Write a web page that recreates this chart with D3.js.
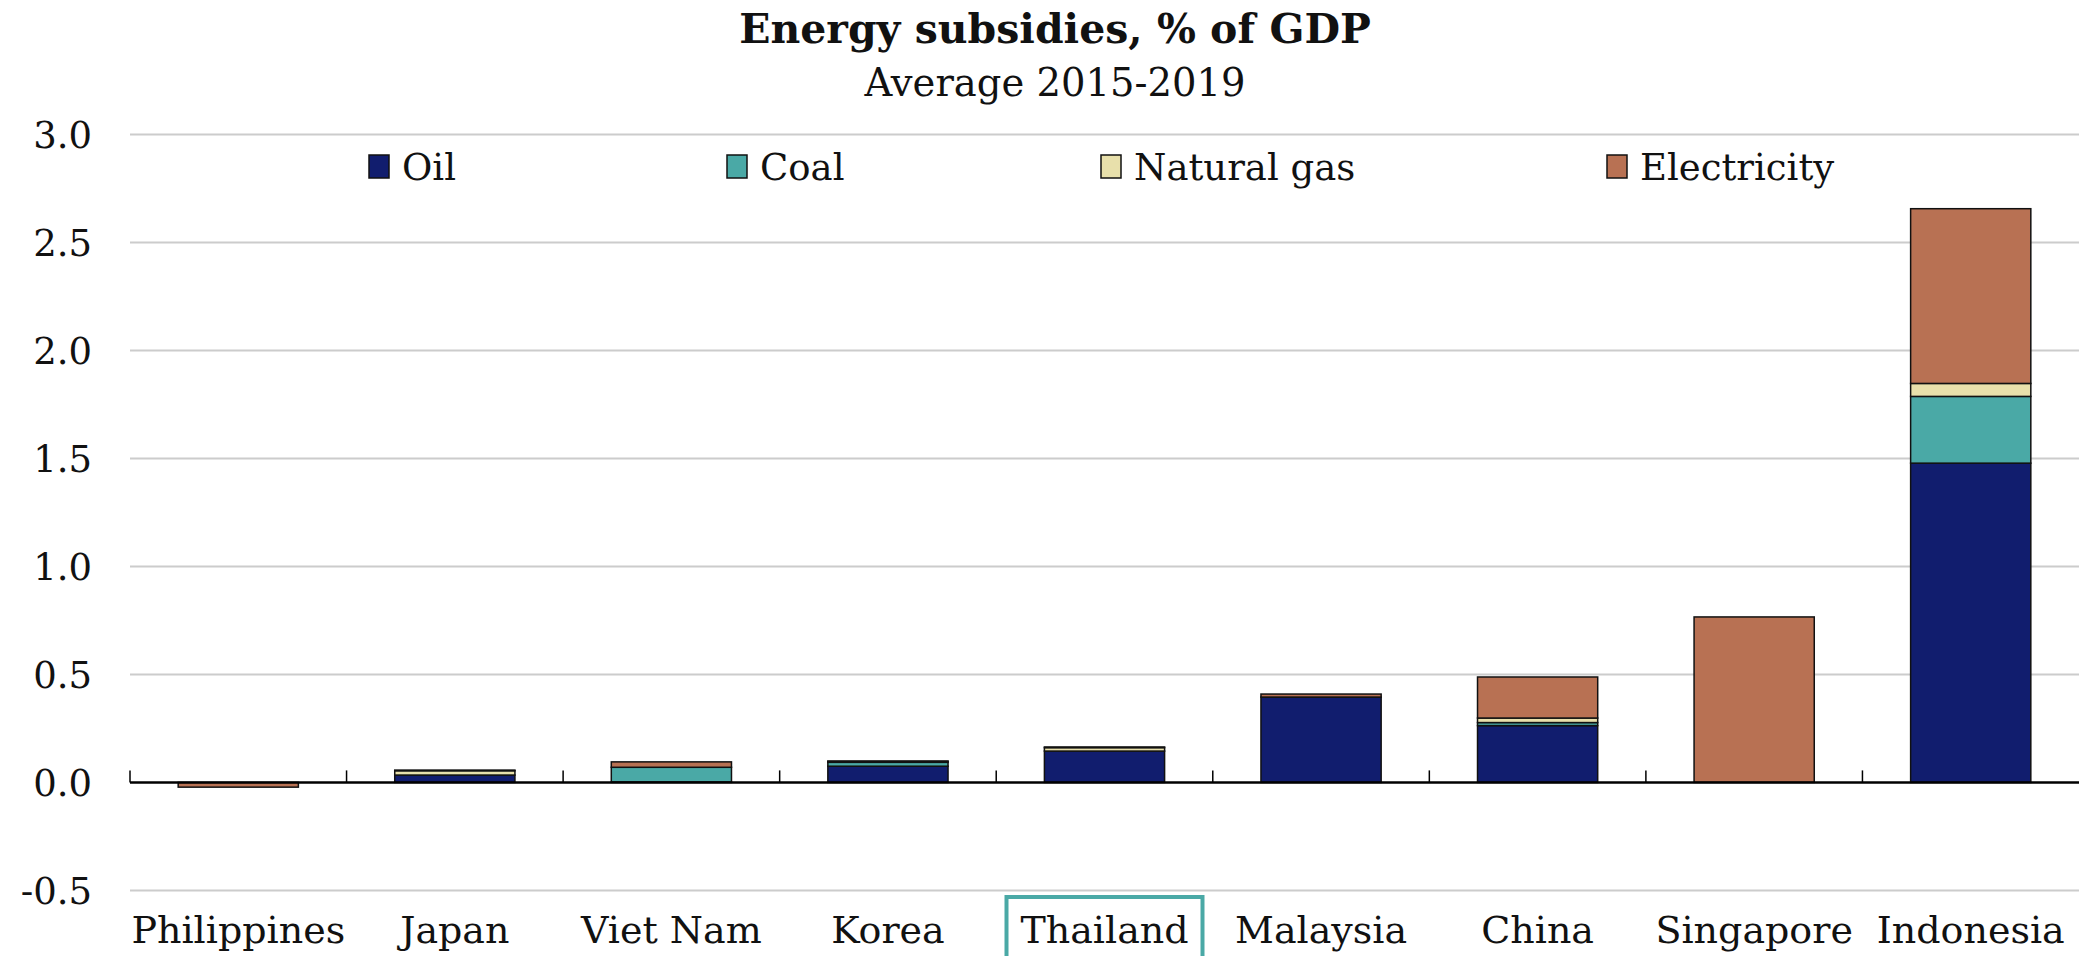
<!DOCTYPE html>
<html>
<head>
<meta charset="utf-8">
<script src="https://cdn.jsdelivr.net/npm/d3@7"></script>
<style>
  html, body { margin: 0; padding: 0; background: #ffffff; }
  svg { display: block; }
  text { font-family: "DejaVu Serif", Georgia, serif; fill: #111; }
</style>
</head>
<body>
<svg id="chart" width="2079" height="956"></svg>
<script>
// ---- data ----
const categories = ["Philippines", "Japan", "Viet Nam", "Korea", "Thailand", "Malaysia", "China", "Singapore", "Indonesia"];
const seriesNames = ["Oil", "Coal", "Natural gas", "Electricity"];
const oil         = [0,      0.034, 0.002, 0.075, 0.145, 0.395, 0.263, 0,     1.478];
const coal        = [0,      0,     0.068, 0.018, 0,     0,     0.014, 0,     0.309];
const naturalGas  = [0,      0.020, 0,     0.004, 0.016, 0,     0.021, 0,     0.060];
const electricity = [-0.022, 0.003, 0.025, 0.002, 0.003, 0.014, 0.190, 0.766, 0.809];
const yTicks = [-0.5, 0, 0.5, 1.0, 1.5, 2.0, 2.5, 3.0];
const titleText = "Energy subsidies, % of GDP";
const subtitleText = "Average 2015-2019";
const highlighted = "Thailand";

// ---- styles / layout ----
const colors = ["#111d6e", "#4aa9a6", "#e8e0ab", "#b87153"];
const plot = { left: 130, right: 2079, top: 134.4, bottom: 890.4 };
const legendX = [369, 727, 1101, 1607];
const outerPad = 0.2225;

const svg = d3.select("#chart");

const x = d3.scaleBand().domain(categories).range([plot.left, plot.right]).paddingInner(0.445).paddingOuter(outerPad);
const y = d3.scaleLinear().domain([-0.5, 3.0]).range([plot.bottom, plot.top]);
const fmt = v => d3.format(".1f")(v).replace("\u2212", "-");

// gridlines
svg.append("g").selectAll("line").data(yTicks.filter(t => t !== 0)).join("line")
  .attr("x1", plot.left).attr("x2", plot.right)
  .attr("y1", d => y(d)).attr("y2", d => y(d))
  .attr("stroke", "#cccccc").attr("stroke-width", 2);

// y labels
svg.append("g").selectAll("text").data(yTicks).join("text")
  .attr("x", 92).attr("y", d => y(d)).attr("dy", "0.38em")
  .attr("text-anchor", "end").attr("font-size", 37)
  .text(d => fmt(d));

// stacked bars
const table = categories.map((c, i) => ({
  cat: c, "Oil": oil[i], "Coal": coal[i], "Natural gas": naturalGas[i], "Electricity": electricity[i]
}));
const stack = d3.stack().keys(seriesNames).offset(d3.stackOffsetDiverging);
const layers = stack(table);

svg.append("g").selectAll("g").data(layers).join("g")
  .attr("fill", (d, i) => colors[i])
  .selectAll("rect").data(d => d.filter(p => Math.abs(p[1] - p[0]) > 0)).join("rect")
  .attr("x", d => x(d.data.cat))
  .attr("width", x.bandwidth())
  .attr("y", d => y(Math.max(d[0], d[1])))
  .attr("height", d => Math.abs(y(d[0]) - y(d[1])))
  .attr("stroke", "#111").attr("stroke-width", 1.5);

// zero axis + category separator ticks
const step = x.step();
svg.append("line")
  .attr("x1", plot.left).attr("x2", plot.right)
  .attr("y1", y(0)).attr("y2", y(0))
  .attr("stroke", "#000").attr("stroke-width", 2.5);
svg.append("g").selectAll("line").data(categories).join("line")
  .attr("x1", d => x(d) - step * outerPad)
  .attr("x2", d => x(d) - step * outerPad)
  .attr("y1", y(0)).attr("y2", y(0) - 12)
  .attr("stroke", "#000").attr("stroke-width", 1.5);

// x labels
svg.append("g").selectAll("text").data(categories).join("text")
  .attr("x", d => x(d) + x.bandwidth() / 2).attr("y", 943)
  .attr("text-anchor", "middle").attr("font-size", 38)
  .text(d => d);

// highlight box
const hx = x(highlighted) + x.bandwidth() / 2;
svg.append("rect")
  .attr("x", hx - 98).attr("y", 897).attr("width", 196).attr("height", 80)
  .attr("fill", "none").attr("stroke", "#4aa9a6").attr("stroke-width", 4);

// legend
const lg = svg.append("g").selectAll("g").data(seriesNames).join("g")
  .attr("transform", (d, i) => `translate(${legendX[i]},155)`);
lg.append("rect").attr("width", 20).attr("height", 23)
  .attr("fill", (d, i) => colors[i]).attr("stroke", "#111").attr("stroke-width", 1.5);
lg.append("text").attr("x", 33).attr("y", 25).attr("font-size", 37).text(d => d);

// titles
svg.append("text").attr("x", 1055).attr("y", 43).attr("text-anchor", "middle")
  .attr("font-size", 41).attr("font-weight", "bold").text(titleText);
svg.append("text").attr("x", 1055).attr("y", 96).attr("text-anchor", "middle")
  .attr("font-size", 38.5).text(subtitleText);
</script>
</body>
</html>
